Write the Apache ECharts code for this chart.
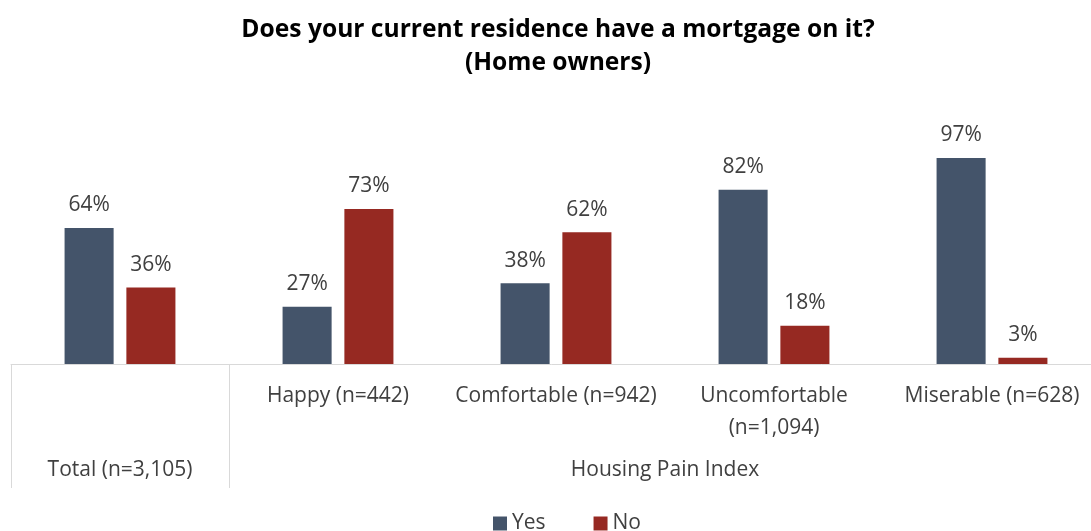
<!DOCTYPE html>
<html>
<head>
<meta charset="utf-8">
<script src="https://cdn.jsdelivr.net/npm/echarts@6/dist/echarts.min.js"></script>
<style>
  html, body { margin: 0; padding: 0; background: #fff; }
  #chart { width: 1091px; height: 531px; }
</style>
</head>
<body>
<div id="chart"></div>
<script>
// Group labels (first row under the axis) and the outer grouping row
const categories = ['', 'Happy (n=442)', 'Comfortable (n=942)', 'Uncomfortable\n(n=1,094)', 'Miserable (n=628)'];
const groupLabels = { 1: 'Total (n=3,105)', 6: 'Housing Pain Index' };

// Share of home owners with a mortgage (%)
const yesValues = [64, 27, 38, 82, 97];
const noValues = [36, 73, 62, 18, 3];

const FONT = '"Open Sans", "Noto Sans", sans-serif';
const chart = echarts.init(document.getElementById('chart'));

const labelStyle = {
  show: true,
  position: 'top',
  distance: 12,
  formatter: p => p.value + '%',
  color: '#404040',
  fontSize: 21,
  fontFamily: FONT
};

chart.setOption({
  animation: false,
  title: {
    text: 'Does your current residence have a mortgage on it?\n(Home owners)',
    left: 553,
    textAlign: 'center',
    top: 8,
    textStyle: { fontSize: 24.6, fontWeight: 'bold', color: '#000', fontFamily: FONT, lineHeight: 33 }
  },
  legend: {
    top: 508,
    left: 488,
    itemWidth: 14,
    itemHeight: 14,
    itemGap: 48,
    itemTextGap: 3,
    icon: 'rect',
    textStyle: { fontSize: 21, color: '#404040', fontFamily: FONT },
    data: ['Yes', 'No']
  },
  grid: { left: 11, width: 1090, top: 151.5, bottom: 167, outerBoundsMode: 'none' },
  xAxis: [
    {
      type: 'category',
      data: categories,
      axisLine: { show: true, lineStyle: { color: '#d9d9d9', width: 1 } },
      axisTick: {
        show: true,
        length: 124,
        interval: (i) => i <= 1,
        lineStyle: { color: '#d9d9d9', width: 1 }
      },
      axisLabel: {
        interval: 0,
        margin: 16,
        color: '#404040',
        fontSize: 21,
        lineHeight: 32,
        fontFamily: FONT
      }
    },
    {
      type: 'value',
      min: 0,
      max: 10,
      interval: 1,
      position: 'bottom',
      axisLine: { show: false },
      axisTick: { show: false },
      splitLine: { show: false },
      axisLabel: {
        margin: 94,
        color: '#404040',
        fontSize: 21,
        lineHeight: 24,
        fontFamily: FONT,
        showMinLabel: false,
        showMaxLabel: false,
        formatter: v => groupLabels[v] || ''
      }
    }
  ],
  yAxis: {
    type: 'value',
    min: 0,
    max: 100,
    show: false
  },
  series: [
    {
      name: 'Yes',
      type: 'bar',
      data: yesValues,
      barWidth: '22.5%',
      barGap: '26%',
      itemStyle: { color: '#44546A' },
      label: labelStyle
    },
    {
      name: 'No',
      type: 'bar',
      data: noValues,
      barWidth: '22.5%',
      barGap: '26%',
      itemStyle: { color: '#962922' },
      label: labelStyle
    }
  ]
});
</script>
</body>
</html>
